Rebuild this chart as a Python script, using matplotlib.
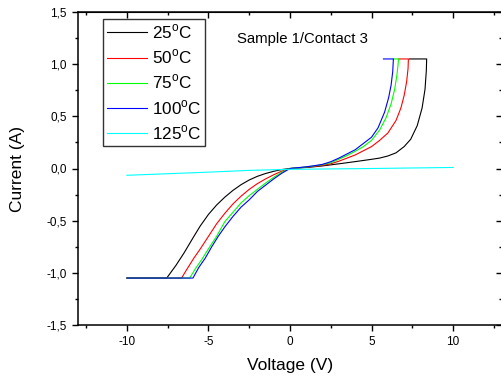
import matplotlib
matplotlib.use("Agg")
import matplotlib.pyplot as plt
from matplotlib.ticker import MultipleLocator, FuncFormatter

plt.rcParams['font.family'] = ['Liberation Sans', 'DejaVu Sans']
plt.rcParams['mathtext.fontset'] = 'custom'
plt.rcParams['mathtext.rm'] = 'Liberation Sans'
plt.rcParams['axes.unicode_minus'] = False

labels = ['25$^{\\mathrm{o}}$C', '50$^{\\mathrm{o}}$C', '75$^{\\mathrm{o}}$C',
          '100$^{\\mathrm{o}}$C', '125$^{\\mathrm{o}}$C']
colors = ['#000000', '#FF0000', '#00FF00', '#0000FF', '#00FFFF']

v25 = [-10, -7.56, -7.0, -6.5, -5.93, -5.5, -5.0, -4.5, -4.0, -3.5, -3.0, -2.5, -2.0, -1.5, -1.0, -0.5, 0,
       0.5, 1.0, 1.5, 2.0, 3.0, 4.0, 5.0, 5.5, 6.0, 6.5, 7.0, 7.4, 7.8, 8.1, 8.28, 8.36, 8.38, 7.32]
i25 = [-1.05, -1.05, -0.93, -0.81, -0.66, -0.55, -0.44, -0.35, -0.275, -0.21, -0.155, -0.11, -0.075, -0.048, -0.027, -0.01, 0,
       0.004, 0.01, 0.017, 0.025, 0.045, 0.066, 0.088, 0.1, 0.12, 0.15, 0.21, 0.28, 0.41, 0.58, 0.76, 0.94, 1.05, 1.05]

v50 = [-10, -6.65, -6.3, -5.9, -5.5, -5.0, -4.5, -4.0, -3.5, -3.0, -2.5, -2.0, -1.5, -1.0, -0.5, 0,
       0.5, 1.0, 1.5, 2.0, 2.5, 3.0, 3.5, 4.0, 4.5, 5.0, 5.5, 6.0, 6.5, 6.8, 7.0, 7.15, 7.24, 7.26, 6.65]
i50 = [-1.05, -1.05, -0.96, -0.86, -0.77, -0.65, -0.53, -0.43, -0.34, -0.265, -0.2, -0.145, -0.1, -0.06, -0.025, 0,
       0.006, 0.013, 0.02, 0.03, 0.045, 0.07, 0.1, 0.13, 0.17, 0.21, 0.27, 0.34, 0.46, 0.58, 0.7, 0.83, 0.96, 1.05, 1.05]

v75 = [-10, -6.15, -5.8, -5.4, -5.0, -4.5, -4.0, -3.5, -3.0, -2.5, -2.0, -1.5, -1.0, -0.5, 0,
       0.5, 1.0, 1.5, 2.0, 2.5, 3.0, 3.5, 4.0, 4.5, 5.0, 5.5, 5.9, 6.2, 6.42, 6.56, 6.63, 6.65, 6.34]
i75 = [-1.05, -1.05, -0.96, -0.87, -0.77, -0.65, -0.51, -0.42, -0.33, -0.26, -0.2, -0.14, -0.085, -0.035, 0,
       0.007, 0.015, 0.025, 0.037, 0.055, 0.09, 0.125, 0.165, 0.21, 0.27, 0.37, 0.49, 0.62, 0.76, 0.9, 1.0, 1.05, 1.05]

v100 = [-10, -5.95, -5.6, -5.2, -4.8, -4.4, -4.0, -3.5, -3.0, -2.5, -2.0, -1.5, -1.0, -0.5, 0,
        0.5, 1.0, 1.5, 2.0, 2.5, 3.0, 3.5, 4.0, 4.5, 5.0, 5.4, 5.8, 6.05, 6.2, 6.3, 6.34, 5.73]
i100 = [-1.05, -1.05, -0.95, -0.86, -0.75, -0.65, -0.56, -0.46, -0.37, -0.3, -0.22, -0.16, -0.1, -0.045, 0,
        0.008, 0.016, 0.027, 0.04, 0.065, 0.1, 0.14, 0.18, 0.24, 0.3, 0.39, 0.54, 0.68, 0.8, 0.93, 1.05, 1.05]

v125 = [-10, -5, -2.5, 0, 5, 10]
i125 = [-0.065, -0.035, -0.018, -0.008, 0.0, 0.01]

series_v = [v25, v50, v75, v100, v125]
series_i = [i25, i50, i75, i100, i125]

fig = plt.figure(figsize=(5.01, 3.83), dpi=100)
ax = fig.add_axes([78/501, 58/383, 424/501, 313/383])

for v, i, c, lab in zip(series_v, series_i, colors, labels):
    ax.plot(v, i, color=c, lw=0.8, label=lab)

ax.set_xlim(-13, 13)
ax.set_ylim(-1.5, 1.5)
ax.xaxis.set_major_locator(MultipleLocator(5))
ax.xaxis.set_minor_locator(MultipleLocator(2.5))
ax.yaxis.set_major_locator(MultipleLocator(0.5))
ax.yaxis.set_minor_locator(MultipleLocator(0.25))
ax.xaxis.set_major_formatter(FuncFormatter(lambda x, p: f"{x:.0f}"))
ax.yaxis.set_major_formatter(FuncFormatter(lambda y, p: f"{y:.1f}".replace('.', ',')))
ax.tick_params(which='both', direction='out', labelsize=8.5, width=1.0)
ax.tick_params(which='major', length=4.5)
ax.tick_params(which='minor', length=2.5)
for s in ax.spines.values():
    s.set_linewidth(1.1)

secx = ax.secondary_xaxis('top')
secx.xaxis.set_major_locator(MultipleLocator(5))
secx.xaxis.set_minor_locator(MultipleLocator(2.5))
secx.tick_params(which='both', direction='in', labeltop=False, width=1.0)
secx.tick_params(which='major', length=4.5)
secx.tick_params(which='minor', length=2.5)
secy = ax.secondary_yaxis('right')
secy.yaxis.set_major_locator(MultipleLocator(0.5))
secy.yaxis.set_minor_locator(MultipleLocator(0.25))
secy.tick_params(which='both', direction='in', labelright=False, width=1.0)
secy.tick_params(which='major', length=4.5)
secy.tick_params(which='minor', length=2.5)

ax.set_xlabel('Voltage (V)', fontsize=12.5)
ax.set_ylabel('Current (A)', fontsize=12.5)
ax.xaxis.set_label_coords(0.5, -0.105)
ax.yaxis.set_label_coords(-0.125, 0.5)

ax.text((237-78)/424, 0.915, 'Sample 1/Contact 3', transform=ax.transAxes, fontsize=10.7,
        ha='left', va='center')

leg = ax.legend(loc='upper left', bbox_to_anchor=(0.059, 0.978), borderaxespad=0,
                fontsize=12.3, frameon=True, fancybox=False, handlelength=2.35,
                handletextpad=0.3, labelspacing=0.38, borderpad=0.22)
leg.get_frame().set_edgecolor('black')
leg.get_frame().set_linewidth(1.0)

fig.savefig('out.png', dpi=100)
